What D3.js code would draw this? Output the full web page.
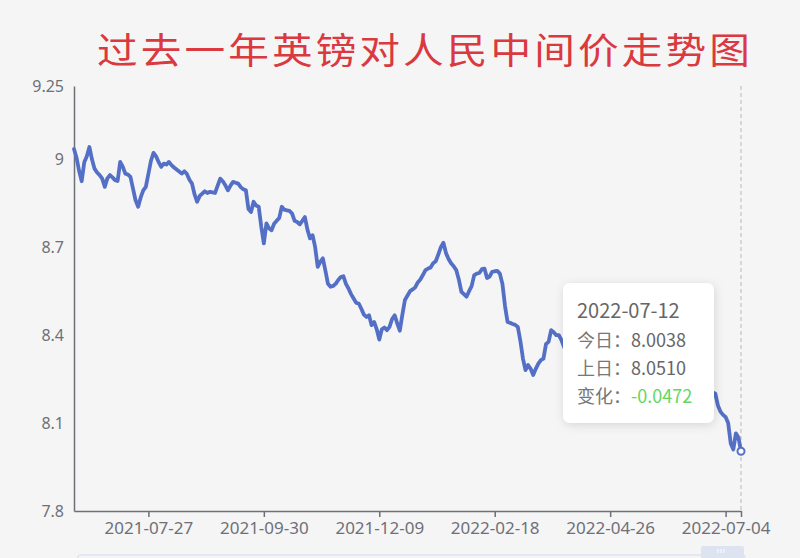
<!DOCTYPE html>
<html><head><meta charset="utf-8">
<script src="https://cdn.jsdelivr.net/npm/d3@7"></script>
<style>
html,body{margin:0;padding:0;background:#f5f5f5;}
svg{display:block;}
</style></head>
<body>
<script>
// ---- data ----
const title = "过去一年英镑对人民中间价走势图";
const dataStart = "2021-06-16";
const dataEnd = "2022-07-12";
const holidays = ["2021-09-20","2021-09-21","2021-10-01","2021-10-04","2021-10-05","2021-10-06","2021-10-07",
  "2022-01-03","2022-01-31","2022-02-01","2022-02-02","2022-02-03","2022-02-04",
  "2022-04-04","2022-04-05","2022-05-02","2022-05-03","2022-05-04","2022-06-03"];
const values = [
 9.035,9.005,8.96,8.925,8.99,9.01,9.042,9.00,8.968,8.955,
 8.946,8.934,8.906,8.935,8.946,8.938,8.929,8.926,8.991,8.975,
 8.951,8.948,8.94,8.90,8.86,8.838,8.87,8.894,8.906,8.95,
 8.995,9.022,9.01,8.99,8.974,8.985,8.982,8.991,8.98,8.972,
 8.965,8.958,8.951,8.959,8.95,8.93,8.917,8.88,8.855,8.875,
 8.883,8.891,8.885,8.889,8.887,8.885,8.91,8.934,8.925,8.911,
 8.894,8.91,8.923,8.92,8.917,8.905,8.898,8.894,8.83,8.82,
 8.855,8.842,8.838,8.77,8.713,8.781,8.765,8.758,8.78,8.79,
 8.80,8.838,8.828,8.826,8.824,8.815,8.79,8.786,8.778,8.79,
 8.803,8.76,8.730,8.741,8.70,8.633,8.65,8.662,8.62,8.575,
 8.565,8.568,8.575,8.588,8.598,8.601,8.575,8.559,8.54,8.525,
 8.51,8.508,8.49,8.47,8.462,8.468,8.434,8.445,8.42,8.385,
 8.42,8.426,8.417,8.428,8.455,8.468,8.44,8.415,8.47,8.52,
 8.535,8.55,8.556,8.563,8.58,8.59,8.605,8.622,8.627,8.631,
 8.645,8.652,8.675,8.70,8.715,8.68,8.66,8.645,8.635,8.622,
 8.59,8.548,8.54,8.531,8.55,8.567,8.605,8.61,8.612,8.625,
 8.627,8.595,8.60,8.616,8.618,8.619,8.61,8.575,8.50,8.445,
 8.442,8.438,8.435,8.428,8.38,8.32,8.281,8.298,8.285,8.264,
 8.285,8.303,8.315,8.32,8.37,8.377,8.417,8.41,8.40,8.40,
 8.383,8.36,8.34,8.33,8.31,8.30,8.28,8.29,8.27,8.25,
 8.26,8.24,8.22,8.25,8.27,8.29,8.31,8.33,8.35,8.34,
 8.36,8.38,8.37,8.35,8.33,8.34,8.36,8.39,8.41,8.40,
 8.42,8.43,8.41,8.39,8.40,8.42,8.40,8.38,8.35,8.33,
 8.30,8.27,8.25,8.28,8.31,8.30,8.27,8.25,8.24,8.26,
 8.28,8.27,8.25,8.24,8.23,8.22,8.23,8.22,8.21,
 8.205,8.20,8.16,8.139,8.128,8.121,8.10,8.03,8.01,8.065,8.051,8.0038
];
const xTickLabels = ["2021-07-27","2021-09-30","2021-12-09","2022-02-18","2022-04-26","2022-07-04"];
const yTickValues = [7.8, 8.1, 8.4, 8.7, 9, 9.25];
const tipLabels = ["今日：", "上日：", "变化："];

(function () {
// ---- categories: interbank trading days ----
const fmt = d3.utcFormat("%Y-%m-%d");
const parse = d3.utcParse("%Y-%m-%d");
const hol = new Set(holidays);
const dates = d3.utcDay.range(parse(dataStart), d3.utcDay.offset(parse(dataEnd), 1))
  .filter(d => d.getUTCDay() !== 0 && d.getUTCDay() !== 6)
  .map(fmt).filter(s => !hol.has(s));
const n = Math.min(dates.length, values.length);
const cats = dates.slice(dates.length - n);
const vals = values.slice(values.length - n);
const data = cats.map((d, i) => ({date: d, value: vals[i]}));

// ---- layout ----
const W = 800, H = 558;
const mLeft = 74, mRight = 741, mTop = 86, mBottom = 511;
const lineColor = "#5470c6";
const axisColor = "#6e7079";

const svg = d3.select("body").append("svg").attr("width", W).attr("height", H);
svg.append("rect").attr("width", W).attr("height", H).attr("fill", "#f5f5f5");

const defs = svg.append("defs");
const f = defs.append("filter").attr("id", "shadow").attr("x", "-20%").attr("y", "-20%").attr("width", "140%").attr("height", "140%");
f.append("feDropShadow").attr("dx", 1).attr("dy", 2).attr("stdDeviation", 5).attr("flood-color", "#000").attr("flood-opacity", 0.13);

const x = d3.scalePoint().domain(cats).range([mLeft, mRight]);
const y = d3.scaleLinear().domain([7.8, 9.25]).range([mBottom, mTop]);

// title
svg.append("text")
  .attr("transform", "translate(97,64) scale(1.13,1)")
  .attr("font-family", "'Noto Sans CJK SC', sans-serif")
  .attr("font-size", 36).attr("letter-spacing", 2.7)
  .attr("fill", "#d9393f")
  .text(title);

// y axis
const yAxis = svg.append("g").attr("transform", `translate(${mLeft},0)`)
  .call(d3.axisLeft(y).tickValues(yTickValues).tickSize(0).tickPadding(10).tickFormat(d => String(d)));
yAxis.select(".domain").attr("stroke", axisColor).attr("stroke-width", 1.5);
yAxis.selectAll("text").attr("fill", axisColor).attr("font-size", 16).attr("font-family", "'Noto Sans', sans-serif");

// x axis
const last = cats[cats.length - 1];
const xAxis = svg.append("g").attr("transform", `translate(0,${mBottom})`)
  .call(d3.axisBottom(x).tickValues([...xTickLabels.filter(d => x(d) !== undefined), last])
    .tickSize(6).tickSizeOuter(0).tickPadding(5)
    .tickFormat(d => xTickLabels.includes(d) ? d : ""));
xAxis.select(".domain").attr("stroke", axisColor).attr("stroke-width", 1.5);
xAxis.selectAll(".tick line").attr("stroke", axisColor).attr("stroke-width", 1.5);
xAxis.selectAll("text").attr("fill", axisColor).attr("font-size", 17).attr("font-family", "'Noto Sans', sans-serif");

// axis pointer
svg.append("line")
  .attr("x1", x(last)).attr("x2", x(last)).attr("y1", mTop).attr("y2", mBottom)
  .attr("stroke", "#b8b8b8").attr("stroke-width", 1).attr("stroke-dasharray", "4,3");

// line
svg.append("path").datum(data)
  .attr("fill", "none").attr("stroke", lineColor).attr("stroke-width", 3.8)
  .attr("stroke-linejoin", "round").attr("stroke-linecap", "round")
  .attr("d", d3.line().x(d => x(d.date)).y(d => y(d.value)));

// hover point
const lastD = data[data.length - 1], prevD = data[data.length - 2];
svg.append("circle").attr("cx", x(lastD.date)).attr("cy", y(lastD.value)).attr("r", 3.5)
  .attr("fill", "#fff").attr("stroke", lineColor).attr("stroke-width", 2);

// tooltip
const tip = svg.append("g").attr("transform", "translate(563,283)");
tip.append("rect").attr("width", 151).attr("height", 140).attr("rx", 7)
  .attr("fill", "#fff").attr("filter", "url(#shadow)");
const tf = "'Noto Sans CJK SC', 'Noto Sans', sans-serif";
tip.append("text").attr("x", 14).attr("y", 35).attr("font-family", tf).attr("font-size", 20).attr("fill", "#666").text(lastD.date);
const change = lastD.value - prevD.value;
const rows = [[lastD.value.toFixed(4), "#666"], [prevD.value.toFixed(4), "#666"], [change.toFixed(4), "#62d862"]];
rows.forEach((r, i) => {
  const t = tip.append("text").attr("x", 14).attr("y", 64 + i * 28).attr("font-family", tf).attr("font-size", 18);
  t.append("tspan").attr("fill", "#777").text(tipLabels[i]);
  t.append("tspan").attr("fill", r[1]).text(r[0]);
});

// data zoom slider (bottom)
svg.append("rect").attr("x", 78).attr("y", 555).attr("width", 667).attr("height", 12).attr("rx", 2)
  .attr("fill", "none").attr("stroke", "#d2dbee").attr("stroke-width", 1);
svg.append("rect").attr("x", 701).attr("y", 546).attr("width", 43).attr("height", 14).attr("rx", 2)
  .attr("fill", "#dde3f0");
[718, 721, 724].forEach(cx => svg.append("line").attr("x1", cx).attr("x2", cx).attr("y1", 549).attr("y2", 553)
  .attr("stroke", "#fff").attr("stroke-width", 1));
})();
</script>
</body></html>
